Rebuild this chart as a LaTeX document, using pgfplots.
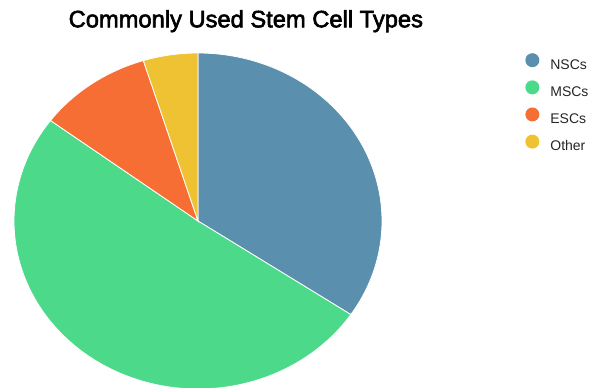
\documentclass[border=0pt]{standalone}
\usepackage{pgfplots}
\usepackage{pgfplotstable}
\pgfplotsset{compat=1.18}
\usepackage{fontspec}
\setmainfont{Liberation Sans}
\newfontfamily\titlefont{Liberation Sans}[FakeBold=2.5]
\definecolor{cNSC}{HTML}{5A8FAD}
\definecolor{cMSC}{HTML}{4CDA8A}
\definecolor{cESC}{HTML}{F66E33}
\definecolor{cOTH}{HTML}{EEC233}
\pgfplotstableread{
type value
NSCs 34.4
MSCs 50.8
ESCs 10.0
Other 4.8
}\piedata
\begin{document}
\begin{tikzpicture}[x=1pt,y=1pt]
\pgfplotstablegetelem{0}{value}\of\piedata \pgfmathsetmacro\vA{\pgfplotsretval}
\pgfplotstablegetelem{1}{value}\of\piedata \pgfmathsetmacro\vB{\pgfplotsretval}
\pgfplotstablegetelem{2}{value}\of\piedata \pgfmathsetmacro\vC{\pgfplotsretval}
\pgfplotstablegetelem{3}{value}\of\piedata \pgfmathsetmacro\vD{\pgfplotsretval}
\pgfmathsetmacro\tA{90}
\pgfmathsetmacro\tB{\tA-3.6*\vA}
\pgfmathsetmacro\tC{\tB-3.6*\vB}
\pgfmathsetmacro\tD{\tC-3.6*\vC}
\pgfmathsetmacro\tE{\tD-3.6*\vD}
\begin{axis}[
  width=368pt, height=336pt, scale only axis,
  xmin=-1, xmax=1, ymin=-1, ymax=1,
  hide axis, clip=false,
  title={\fontsize{23.7}{27}\titlefont Commonly Used Stem Cell Types},
  title style={at={(axis description cs:0.630,1.0586)}, anchor=base, inner sep=0pt},
  legend style={at={(axis description cs:1.389,1.0)}, anchor=north west,
    draw=none, fill=none, inner sep=0pt, row sep=8.5pt, column sep=10pt,
    font=\fontsize{14}{16}\selectfont,
    nodes={inner sep=1pt, text=black!85}},
  legend cell align=left,
  legend image code/.code={\fill[#1,draw=none] (0pt,5pt) circle (7pt);},
]
\addplot[fill=cNSC, draw=white, line width=0.8pt, domain=\tB:\tA, samples=90, variable=\t]
  ({cos(t)},{sin(t)}) -- (axis cs:0,0) -- cycle;
\addlegendentry{NSCs}
\addplot[fill=cMSC, draw=white, line width=0.8pt, domain=\tC:\tB, samples=120, variable=\t]
  ({cos(t)},{sin(t)}) -- (axis cs:0,0) -- cycle;
\addlegendentry{MSCs}
\addplot[fill=cESC, draw=white, line width=0.8pt, domain=\tD:\tC, samples=40, variable=\t]
  ({cos(t)},{sin(t)}) -- (axis cs:0,0) -- cycle;
\addlegendentry{ESCs}
\addplot[fill=cOTH, draw=white, line width=0.8pt, domain=\tE:\tD, samples=30, variable=\t]
  ({cos(t)},{sin(t)}) -- (axis cs:0,0) -- cycle;
\addlegendentry{Other}
\coordinate (pc) at (axis cs:0,0);
\end{axis}
\pgfresetboundingbox
\path[use as bounding box] ([shift={(-198,-167)}]pc) rectangle ([shift={(391,221)}]pc);
\end{tikzpicture}
\end{document}
